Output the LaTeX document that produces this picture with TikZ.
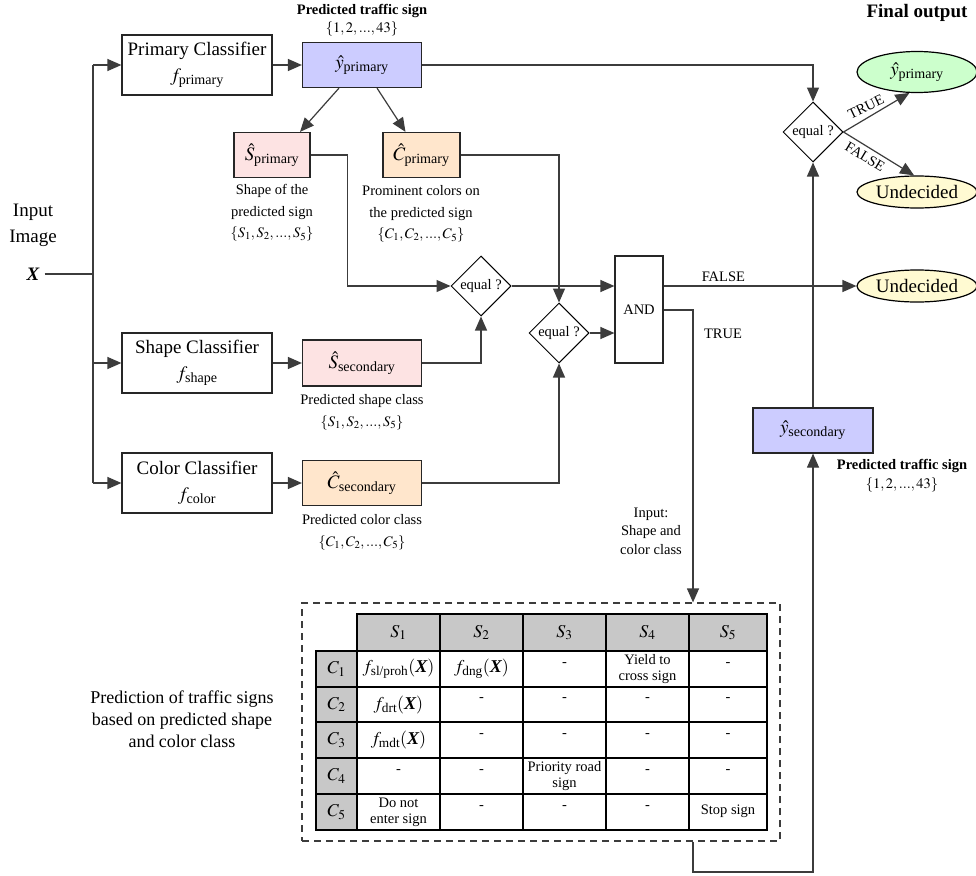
\documentclass[tikz,border=0pt]{standalone}
\usepackage{amsmath}
\usepackage{mathptmx}
\usepackage{fontspec}
\setmainfont{Liberation Serif}
\usetikzlibrary{shapes.geometric,arrows.meta}
\newcommand{\bX}{\text{\bfseries\itshape X}}
\newcommand{\fbig}{\fontsize{19}{26}\selectfont}
\newcommand{\fmid}{\fontsize{18}{22}\selectfont}
\newcommand{\fsm}{\fontsize{14.5}{21.5}\selectfont}
\newcommand{\fcell}{\fontsize{14.5}{16}\selectfont}
\definecolor{cblue}{HTML}{CCCCFF}
\definecolor{cpink}{HTML}{FDE3E3}
\definecolor{cpeach}{HTML}{FFE6CC}
\definecolor{cgreen}{HTML}{CCFFCC}
\definecolor{cyel}{HTML}{FFFAD2}
\definecolor{tgray}{HTML}{C8C8C8}
\definecolor{lc}{HTML}{3C3C3C}
\begin{document}
\begin{tikzpicture}[x=1pt,y=-1pt,
  conn/.style={draw=lc, line width=1.2pt},
  arr/.style={conn, -{Triangle[length=14pt,width=12pt]}},
  clsbox/.style={draw=black!85, line width=1.2pt, minimum width=150pt, minimum height=60pt, inner sep=0pt, align=center, font=\fbig},
  pbox/.style={draw=black!85, line width=1.2pt, minimum width=119pt, minimum height=45pt, inner sep=0pt, font=\fbig},
  sbox/.style={draw=black!85, line width=1.2pt, minimum width=77pt, minimum height=45pt, inner sep=0pt, font=\fbig},
  dia/.style={diamond, draw=black, line width=1pt, minimum width=60pt, minimum height=60pt, inner sep=0pt, font=\fsm},
  ell/.style={ellipse, draw=black, line width=1.2pt, minimum width=120pt, minimum height=32pt, inner sep=0pt, font=\fbig},
  lbl/.style={font=\fsm, align=center, inner sep=0pt},
  cell/.style={font=\fcell, align=center, inner sep=0pt},
  mcell/.style={font=\fmid, inner sep=0pt}
]
\useasboundingbox (0,0) rectangle (976,875);
\fill[white] (0,0) rectangle (976,875);

% titles
\node[lbl] (t1) at (362,11) {\bfseries Predicted traffic sign};
\node[lbl] (t1s) at (362,29) {$\{1,2,...,43\}$};
\node[font=\fbig, inner sep=0pt] (fo) at (917,13) {\bfseries Final output};

% input
\node[font=\fbig, align=center, inner sep=0pt] (inp) at (33,225) {Input\\Image};
\node[font=\fbig, inner sep=0pt] (x) at (33,274) {\bfseries\itshape X};
\coordinate (br) at (93,274);

% classifiers
\node[clsbox] (pc) at (197,65) {Primary Classifier\\$f_{\text{primary}}$};
\node[clsbox] (sc) at (197,363) {Shape Classifier\\$f_{\text{shape}}$};
\node[clsbox] (cc) at (197,483) {Color Classifier\\$f_{\text{color}}$};

% predictions
\node[pbox, fill=cblue] (yp) at (362,65) {$\hat{y}_{\text{primary}}$};
\node[sbox, fill=cpink, minimum width=76pt] (sp) at (272,155) {$\hat{S}_{\text{primary}}$};
\node[sbox, fill=cpeach] (cp) at (421.5,155) {$\hat{C}_{\text{primary}}$};
\node[pbox, fill=cpink, minimum height=46pt] (ss) at (362,363) {$\hat{S}_{\text{secondary}}$};
\node[pbox, fill=cpeach] (cs) at (362,483) {$\hat{C}_{\text{secondary}}$};
\node[pbox, fill=cblue, minimum width=120pt] (ys) at (813,430.5) {$\hat{y}_{\text{secondary}}$};

% descriptions
\node[lbl] (dsp) at (272,213) {Shape of the\\predicted sign\\$\{S_1,S_2,...,S_5\}$};
\node[lbl] (dcp) at (421,214) {Prominent colors on\\the predicted sign\\$\{C_1,C_2,...,C_5\}$};
\node[lbl] (dss) at (362,412.5) {Predicted shape class\\$\{S_1,S_2,...,S_5\}$};
\node[lbl] (dcs) at (362,532.5) {Predicted color class\\$\{C_1,C_2,...,C_5\}$};
\node[lbl] (dys1) at (902,466) {\bfseries Predicted traffic sign};
\node[lbl] (dys2) at (902,485) {$\{1,2,...,43\}$};
\node[lbl, font=\fontsize{14.5}{18.5}\selectfont] (din) at (651,531) {Input:\\Shape and\\color class};
\node[font=\fmid, align=center, inner sep=0pt] (dtab) at (182,719) {Prediction of traffic signs\\based on predicted shape\\and color class};

% decisions
\node[dia] (d1) at (481,286) {equal ?};
\node[dia] (d2) at (559,333) {equal ?};
\node[dia] (d3) at (813,132) {equal ?};
\node[draw=black!85, line width=1.2pt, minimum width=48pt, minimum height=107pt, inner sep=0pt, font=\fsm] (and) at (639,309.5) {AND};

% outputs
\node[ell, fill=cgreen, minimum height=41pt] (oy) at (917,72) {$\hat{y}_{\text{primary}}$};
\node[ell, fill=cyel] (ou1) at (917,192) {Undecided};
\node[ell, fill=cyel] (ou2) at (917,286) {Undecided};

% input branches
\draw[conn] (x.east) ++(5,0) -- (br);
\draw[conn] (pc.west -| br) -- (cc.west -| br);
\draw[arr] (pc.west -| br) -- (pc.west);
\draw[arr] (sc.west -| br) -- (sc.west);
\draw[arr] (cc.west -| br) -- (cc.west);

\draw[arr] (pc) -- (yp);
\draw[arr] (sc) -- (ss);
\draw[arr] (cc) -- (cs);
\draw[arr] ([xshift=-23pt]yp.south) -- ([xshift=28pt]sp.north);
\draw[arr] ([xshift=15pt]yp.south) -- ([xshift=-16pt]cp.north);

\draw[arr] (sp.east) -- ++(37,0) |- (d1.west);
\draw[arr] (ss.east) -| (d1.south);
\draw[arr] (cp.east) -| (d2.north);
\draw[arr] (cs.east) -| (d2.south);
\draw[arr] (d1.east) -- (d1.east -| and.west);
\draw[arr] (d2.east) -- (d2.east -| and.west);

\draw[arr] (and.east |- d1.east) -- (ou2.west) node[pos=0.31, above=4pt, font=\fsm, inner sep=0pt] (lf) {FALSE};
\coordinate (tc) at (693,310);
\node[lbl] (lt) at (723,334) {TRUE};

% table box
\node[draw=lc, line width=1.2pt, dash pattern=on 7pt off 5pt, minimum width=478pt, minimum height=238pt, inner sep=0pt] (tab) at (541,722) {};
\draw[arr] (and.east |- tc) -- (tc) -- (tc |- tab.north);

\draw[arr] (yp.east) -| (d3.north);
\draw[arr] (ys.north) -- (d3.south);
\draw[arr] (d3.east) -- (oy.250);
\draw[arr] (d3.east) -- (ou1.100);
\node[lbl, rotate=25.5] (lt3) at (866,107) {TRUE};
\node[lbl, rotate=-31] (lf3) at (865,157) {FALSE};

\coordinate (bl) at (693,872);
\draw[arr] (bl |- tab.south) -- (bl) -| (ys.south);

% table
\fill[tgray] (357,614) rectangle (767,651);
\fill[tgray] (316,651) rectangle (357,830);
\draw[black, line width=1.2pt] (357,614) rectangle (767,830);
\draw[black, line width=1.2pt] (316,651) rectangle (357,830);
\foreach \yy in {651,687,722,758,794} \draw[black, line width=1.2pt] (316,\yy) -- (767,\yy);
\foreach \xx in {440,523,606,689} \draw[black, line width=1.2pt] (\xx,614) -- (\xx,830);

\foreach \i/\xx in {1/398.5,2/481.5,3/564.5,4/647.5,5/728}
  \node[mcell] (h\i) at (\xx,632.5) {$S_\i$};
\foreach \j/\yy in {1/669,2/704.5,3/740,4/776,5/812}
  \node[mcell] (r\j) at (336.5,\yy) {$C_\j$};

\node[mcell] (c11) at (398.5,669) {$f_{\text{sl/proh}}(\bX)$};
\node[mcell] (c12) at (481.5,669) {$f_{\text{dng}}(\bX)$};
\node[cell] (c13) at (564.5,665) {-};
\node[cell] (c14) at (647.5,669) {Yield to\\cross sign};
\node[cell] (c15) at (728,665) {-};
\node[mcell] (c21) at (398.5,704.5) {$f_{\text{drt}}(\bX)$};
\node[mcell] (c31) at (398.5,740) {$f_{\text{mdt}}(\bX)$};
\foreach \xx/\nm in {481.5/2,564.5/3,647.5/4,728/5}{
  \node[cell] (c2\nm) at (\xx,700) {-};
  \node[cell] (c3\nm) at (\xx,736) {-};
}
\node[cell] (c41) at (398.5,772) {-};
\node[cell] (c42) at (481.5,772) {-};
\node[cell] (c43) at (564.5,776) {Priority road\\sign};
\node[cell] (c44) at (647.5,772) {-};
\node[cell] (c45) at (728,772) {-};
\node[cell] (c51) at (398.5,812) {Do not\\enter sign};
\node[cell] (c52) at (481.5,808) {-};
\node[cell] (c53) at (564.5,808) {-};
\node[cell] (c54) at (647.5,808) {-};
\node[cell] (c55) at (728,811) {Stop sign};
\end{tikzpicture}
\end{document}
